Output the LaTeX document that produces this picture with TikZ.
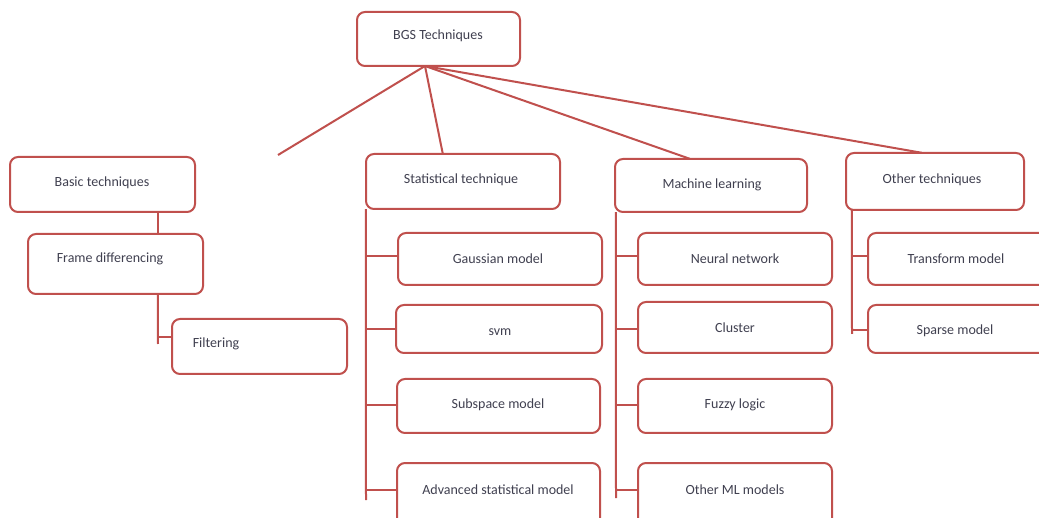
\documentclass[tikz,border=0pt]{standalone}
\usepackage{fontspec}
\setmainfont{Carlito}
\usetikzlibrary{calc}
\definecolor{boxred}{HTML}{C0504D}
\definecolor{txt}{HTML}{404050}
\tikzset{
  bx/.style={draw=boxred, line width=2pt, rounded corners=8pt, fill=white},
  lbl/.style={text=txt, font=\fontsize{14}{16}\selectfont, inner sep=0pt},
  cn/.style={draw=boxred, line width=2pt}
}
% \mybox{name}{x1}{y1}{x2}{y2}{tx}{ty}{text}
\newcommand{\mybox}[8]{%
  \path[bx] (#2,#3) rectangle (#4,#5);
  \node[inner sep=0pt, minimum width={(#4-#2)*1pt}, minimum height={(#5-#3)*1pt}] (#1) at ({(#2+#4)/2},{(#3+#5)/2}) {};
  \node[lbl] (#1t) at (#6,#7) {#8};
}
\begin{document}
\begin{tikzpicture}[x=1pt,y=-1pt]
\useasboundingbox (0,0) rectangle (1039,518);
\clip (0,0) rectangle (1039,518);
\fill[white] (0,0) rectangle (1039,518);

% root
\mybox{root}{357}{12}{520}{66}{438}{36}{BGS Techniques}
\coordinate (hub) at (425,66);
\coordinate (basicend) at (278,155);

% level 1
\mybox{basic}{10}{157}{195}{212}{102}{183}{Basic techniques}
\mybox{stat}{366}{154}{560}{209}{461}{180}{Statistical technique}
\mybox{ml}{615}{159}{807}{212}{712}{185}{Machine learning}
\mybox{other}{846}{153}{1024}{210}{932}{180}{Other techniques}

\draw[cn] (hub) -- (basicend);
\draw[cn] (hub) -- ($(stat.north west)+(77,0)$);
\draw[cn] (hub) -- ($(ml.north west)+(75,0)$);
\draw[cn] (hub) -- ($(other.north west)+(76,0)$);

% basic branch
\mybox{frame}{28}{234}{203}{294}{110}{259}{Frame differencing}
\mybox{filt}{172}{319}{347}{374}{216}{344}{Filtering}
\draw[cn] ($(basic.south west)+(148,0)$) -- ($(frame.north west)+(130,0)$);
\draw[cn] ($(frame.south west)+(130,0)$) -- (158,344);
\draw[cn] (158,337) -- (filt.west |- 0,337);

% statistical branch
\mybox{gauss}{398}{233}{602}{285}{498}{259}{Gaussian model}
\mybox{svm}{396}{305}{602}{353}{500}{332}{svm}
\mybox{subsp}{397}{379}{600}{433}{498}{405}{Subspace model}
\mybox{adv}{397}{463}{600}{530}{498}{490}{Advanced statistical model}
\draw[cn] (stat.south west) -- (366,500);
\draw[cn] (366,256) -- (gauss.west |- 0,256);
\draw[cn] (366,329) -- (svm.west |- 0,329);
\draw[cn] (366,405) -- (subsp.west |- 0,405);
\draw[cn] (366,490) -- (adv.west |- 0,490);

% machine learning branch
\mybox{nn}{638}{233}{832}{285}{735}{259}{Neural network}
\mybox{clus}{638}{302}{832}{353}{735}{328}{Cluster}
\mybox{fuzzy}{638}{379}{832}{433}{735}{405}{Fuzzy logic}
\mybox{oml}{638}{463}{832}{530}{735}{490}{Other ML models}
\draw[cn] ($(ml.south west)+(1,0)$) -- (616,498);
\draw[cn] (616,256) -- (nn.west |- 0,256);
\draw[cn] (616,329) -- (clus.west |- 0,329);
\draw[cn] (616,405) -- (fuzzy.west |- 0,405);
\draw[cn] (616,490) -- (oml.west |- 0,490);

% other branch
\mybox{trans}{868}{233}{1050}{285}{956}{259}{Transform model}
\mybox{sparse}{868}{305}{1050}{353}{955}{331}{Sparse model}
\draw[cn] ($(other.south west)+(6,0)$) -- (852,334);
\draw[cn] (852,256) -- (trans.west |- 0,256);
\draw[cn] (852,330) -- (sparse.west |- 0,330);
\end{tikzpicture}
\end{document}
